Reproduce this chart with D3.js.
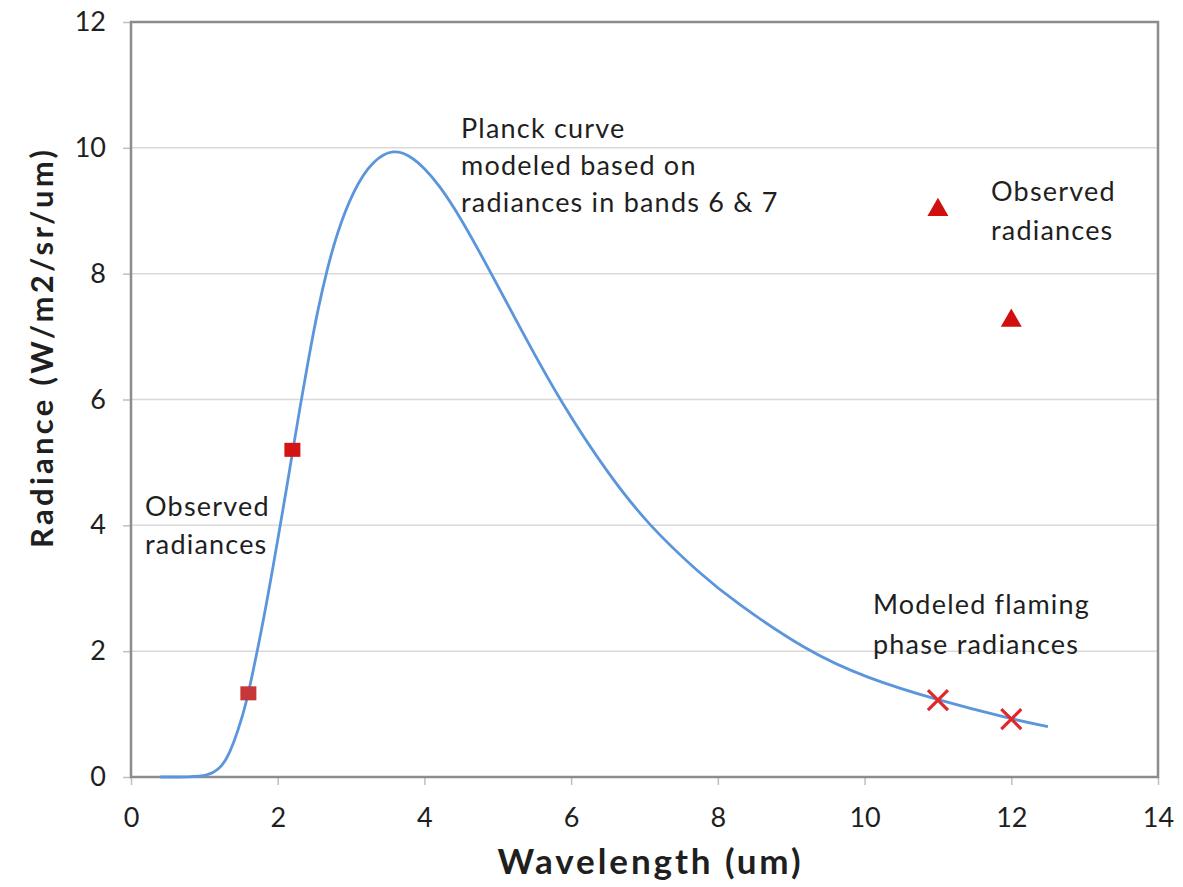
<!DOCTYPE html>
<html>
<head>
<meta charset="utf-8">
<script src="https://cdn.jsdelivr.net/npm/d3@7"></script>
<style>
  body { margin: 0; background: #fff; }
  text { font-family: Lato, "Open Sans", sans-serif; fill: #1f1f1f; }
</style>
</head>
<body>
<div id="chart"></div>
<script>
// wavelength (um) / radiance
const curveX = [0.4, 0.8, 1.05, 1.2, 1.3, 1.39, 1.53, 1.6, 1.74, 1.87, 2.02, 2.13, 2.2, 2.3, 2.42, 2.55, 2.67, 2.8, 3.03, 3.3, 3.58, 3.8, 4.0, 4.2, 4.5, 4.89, 5.39, 5.85, 6.48, 7.07, 7.76, 8.21, 9.21, 10.03, 11.0, 12.0, 12.5];
const curveY = [0, 0, 0.02, 0.12, 0.28, 0.5, 1.0, 1.33, 2.1, 2.9, 3.9, 4.65, 5.15, 5.85, 6.65, 7.45, 8.05, 8.62, 9.33, 9.81, 9.98, 9.88, 9.68, 9.41, 8.88, 8.05, 6.95, 5.98, 4.85, 3.98, 3.23, 2.8, 2.0, 1.57, 1.22, 0.92, 0.8];

// observed radiances, short-wave bands
const squareX = [1.6, 2.2];
const squareY = [1.33, 5.2];
// observed radiances, thermal bands
const triangleX = [11, 12];
const triangleY = [9.03, 7.27];
// modeled flaming phase radiances
const crossX = [11, 12];
const crossY = [1.22, 0.92];

const xTicks = [0, 2, 4, 6, 8, 10, 12, 14];
const yTicks = [0, 2, 4, 6, 8, 10, 12];

const planckNote = ["Planck curve", "modeled based on", "radiances in bands 6 & 7"];
const observedNote = ["Observed", "radiances"];
const flamingNote = ["Modeled flaming", "phase radiances"];

(function(){
    const margin = { top: 22, left: 131, bottom: 110, right: 25 };
    const width = 1183 - margin.left - margin.right;
    const height = 887 - margin.top - margin.bottom;

    const svg = d3.select('#chart')
        .append('svg')
            .attr('width', 1183)
            .attr('height', 887)
        .append('g')
            .attr('transform', `translate(${margin.left}, ${margin.top})`);

    const xScale = d3.scaleLinear().domain([0, 14]).range([0, width]);
    const yScale = d3.scaleLinear().domain([0, 12]).range([height, 0]);

    // gridlines
    svg.append('g')
        .selectAll('line')
        .data(yTicks.filter(d => d > 0 && d < 12))
        .join('line')
            .attr('x1', 0).attr('x2', width)
            .attr('y1', d => yScale(d)).attr('y2', d => yScale(d))
            .style('stroke', '#d9d9d9')
            .style('stroke-width', 1.5);

    // axes
    const yAxis = d3.axisLeft(yScale).tickValues(yTicks).tickSize(8).tickPadding(17);
    const gy = svg.append('g').call(yAxis);

    const xAxis = d3.axisBottom(xScale).tickValues(xTicks).tickSize(8).tickPadding(23);
    const gx = svg.append('g')
            .attr('transform', `translate(0, ${height})`)
        .call(xAxis);

    [gx, gy].forEach(g => {
        g.select('.domain').remove();
        g.selectAll('.tick line').style('stroke', '#bfbfbf').style('stroke-width', 1.5);
        g.selectAll('.tick text')
            .style('font-family', 'Lato, sans-serif')
            .style('font-size', '27px')
            .style('fill', '#1f1f1f');
    });

    // plot frame
    svg.append('rect')
        .attr('width', width)
        .attr('height', height)
        .style('fill', 'none')
        .style('stroke', '#8c8c8c')
        .style('stroke-width', 2.5);

    // curve
    const line = d3.line()
        .x((d, i) => xScale(curveX[i]))
        .y((d, i) => yScale(curveY[i]))
        .curve(d3.curveBasis);

    svg.append('path')
        .datum(curveX)
        .attr('d', line)
        .style('fill', 'none')
        .style('stroke', '#5b96dc')
        .style('stroke-width', 2.8);

    // square markers
    svg.append('g')
        .selectAll('rect')
        .data(squareX)
        .join('rect')
            .attr('x', d => xScale(d) - 8)
            .attr('y', (d, i) => yScale(squareY[i]) - 7)
            .attr('width', 16)
            .attr('height', 14)
            .style('fill', (d, i) => i === 0 ? '#c83737' : '#d41414');

    // triangle markers
    svg.append('g')
        .selectAll('path')
        .data(triangleX)
        .join('path')
            .attr('d', d3.symbol(d3.symbolTriangle, 190))
            .attr('transform', (d, i) => `translate(${xScale(d)}, ${yScale(triangleY[i]) + 1})`)
            .style('fill', '#d10f0f');

    // cross markers
    svg.append('g')
        .selectAll('path')
        .data(crossX)
        .join('path')
            .attr('d', 'M-10,-10L10,10M-10,10L10,-10')
            .attr('transform', (d, i) => `translate(${xScale(d)}, ${yScale(crossY[i])})`)
            .style('fill', 'none')
            .style('stroke', '#e0282a')
            .style('stroke-width', 3.2);

    // annotations
    function note(lines, x, y, step) {
        svg.append('text')
            .attr('x', x)
            .attr('y', y)
            .style('font-size', '27px')
            .style('letter-spacing', '1.2px')
            .selectAll('tspan')
            .data(lines)
            .join('tspan')
                .attr('x', x)
                .attr('y', (d, i) => y + i * step)
                .text(d => d);
    }
    note(planckNote, 461 - margin.left, 138 - margin.top, 37);
    note(observedNote, 991 - margin.left, 201 - margin.top, 39);
    note(observedNote, 145 - margin.left, 516 - margin.top, 38);
    note(flamingNote, 873 - margin.left, 614 - margin.top, 40);

    // axis titles
    svg.append('text')
        .attr('x', width / 2 + 4 - 151)
        .attr('y', height + 97)
        .attr('textLength', 303)
        .attr('lengthAdjust', 'spacing')
        .style('font-size', '35px')
        .style('font-weight', 'bold')
        .text('Wavelength (um)');

    svg.append('text')
        .attr('transform', `translate(${53 - margin.left}, ${548 - margin.top}) rotate(-90)`)
        .attr('textLength', 398)
        .attr('lengthAdjust', 'spacing')
        .style('font-size', '31px')
        .style('font-weight', 'bold')
        .text('Radiance (W/m2/sr/um)');
}())
</script>
</body>
</html>
